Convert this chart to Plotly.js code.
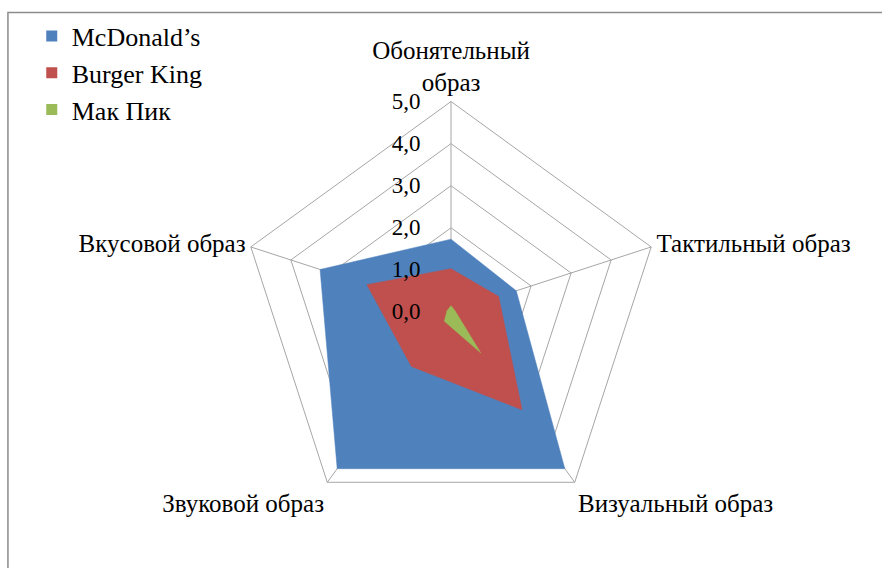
<!DOCTYPE html>
<html><head><meta charset="utf-8">
<script src="https://cdn.plot.ly/plotly-3.0.1.min.js"></script>
<style>body{margin:0;background:#fff}#c{width:882px;height:568px}</style>
</head><body><div id="c"></div>
<script>
const categories = ["Обонятельный<br>образ", "Тактильный образ", "Визуальный образ", "Звуковой образ", "Вкусовой образ"];
const seriesNames = ["McDonald’s", "Burger King", "Мак Пик"];
const mcdonalds = [1.73, 1.63, 4.6, 4.6, 3.27];
const burgerKing = [1.03, 1.19, 2.87, 1.6, 2.1];
const makPik = [0.15, 0.1, 1.2, 0.27, 0.1];
const radialTicks = [0, 1, 2, 3, 4, 5];
const radialTickText = ["0,0", "1,0", "2,0", "3,0", "4,0", "5,0"];

function closed(a){ return a.concat([a[0]]); }
const cats = closed(categories);
const font = "'Liberation Serif', 'Times New Roman', Times, serif";
const colors = ["#4F81BD", "#C0504D", "#9BBB59"];
const values = [mcdonalds, burgerKing, makPik];

const traces = [];
values.forEach((v, i) => {
  traces.push({
    type: "scatterpolar", mode: "lines", name: seriesNames[i], showlegend: false,
    r: closed(v), theta: cats, fill: "toself",
    fillcolor: colors[i], line: {color: colors[i], width: 0.5}, hoverinfo: "skip"
  });
});
values.forEach((v, i) => {
  traces.push({
    type: "scatterpolar", mode: "markers", name: seriesNames[i],
    r: [null], theta: [categories[0]],
    marker: {symbol: "square", size: 11, color: colors[i]}, hoverinfo: "skip"
  });
});

const layout = {
  width: 882, height: 568,
  margin: {l: 0, r: 0, t: 0, b: 0},
  paper_bgcolor: "#fff", plot_bgcolor: "#fff",
  font: {family: font, size: 22, color: "#000"},
  showlegend: true,
  legend: {x: 0.036, y: 0.978, xanchor: "left", yanchor: "top", bgcolor: "rgba(0,0,0,0)",
           font: {family: font, size: 26, color: "#000"}, itemwidth: 30, tracegroupgap: 0},
  polar: {
    domain: {x: [0.2727, 0.75], y: [0.0801, 0.8213]},
    gridshape: "linear",
    bgcolor: "#fff",
    radialaxis: {
      range: [0, 5], angle: 90, tickvals: radialTicks, ticktext: radialTickText,
      showline: false, ticks: "outside", ticklen: 22, tickcolor: "rgba(0,0,0,0)",
      gridcolor: "#a6a6a6", gridwidth: 1,
      tickfont: {family: font, size: 23, color: "#000"}, side: "counterclockwise", tickangle: 90
    },
    angularaxis: {
      direction: "clockwise", rotation: 90, showline: true, linecolor: "#a6a6a6",
      gridcolor: "#a6a6a6", ticks: "", tickfont: {family: font, size: 25, color: "#000"}
    }
  },
  shapes: [{type: "rect", xref: "paper", yref: "paper", x0: 0.009, x1: 1.05, y0: -0.05, y1: 0.978,
            line: {color: "#8c8c8c", width: 1.5}, fillcolor: "rgba(0,0,0,0)", layer: "below"}]
};
Plotly.newPlot("c", traces, layout, {displayModeBar: false, staticPlot: true});
</script></body></html>
